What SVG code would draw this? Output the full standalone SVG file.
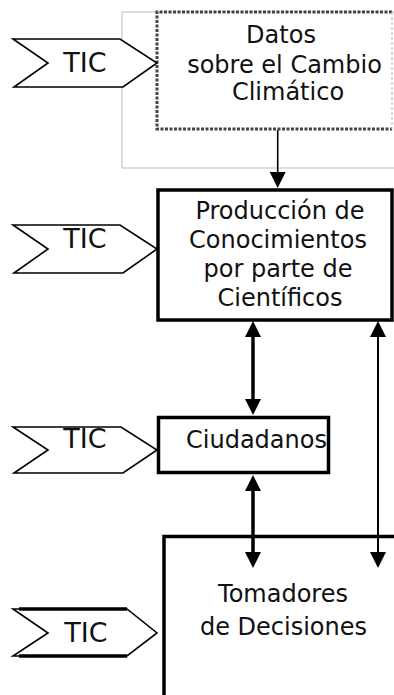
<svg xmlns="http://www.w3.org/2000/svg" width="394" height="695" viewBox="0 0 394 695">
<style>
text{font-family:"DejaVu Sans","Verdana",sans-serif;fill:#111;text-anchor:middle}
.t{font-size:24px}
.tic{font-size:27px}
.chev{fill:#fff;stroke:#000;stroke-width:1.6;stroke-linejoin:miter}
.box{fill:#fff;stroke:#000;stroke-width:3.5}
.ln{stroke:#000;fill:none}
</style>
<defs>
<marker id="ah" viewBox="0 0 16 16" refX="9" refY="8" markerWidth="16" markerHeight="16" markerUnits="userSpaceOnUse" orient="auto-start-reverse">
<path d="M0,0 L16,8 L0,16 z" fill="#000"/>
</marker>
</defs>
<rect x="122" y="12" width="300" height="156" fill="#fff" stroke="#bbb" stroke-width="1"/>
<g id="datos">
<rect x="157" y="12" width="235" height="117" fill="#fff" stroke="none"/>
<path d="M392,12 H157 V129 H392" fill="none" stroke="#444" stroke-width="3" stroke-dasharray="3 1.5"/>
<path d="M392,12 V129" fill="none" stroke="#ccc" stroke-width="1.5" stroke-dasharray="3 2"/>
<text class="t" x="281" y="43">Datos</text>
<text class="t" x="284.5" y="73">sobre el Cambio</text>
<text class="t" x="288" y="100">Climático</text>
</g>
<g id="produccion">
<rect class="box" x="158" y="190" width="234" height="130"/>
<text class="t" x="280" y="219">Producción de</text>
<text class="t" x="278" y="248">Conocimientos</text>
<text class="t" x="278" y="277">por parte de</text>
<text class="t" x="280" y="306">Científicos</text>
</g>
<g id="ciudadanos">
<rect class="box" x="158.5" y="417.5" width="170" height="55"/>
<text class="t" x="256.5" y="448">Ciudadanos</text>
</g>
<g id="tomadores">
<path d="M164,700 V536.5 H400" fill="#fff" stroke="#000" stroke-width="3.5"/>
<text class="t" x="283" y="602">Tomadores</text>
<text class="t" x="283.5" y="635">de Decisiones</text>
</g>
<g id="tic1">
<polygon class="chev" points="13,39 120,39 157,63 123,87 14,87 48,63"/>
<text class="tic" x="85" y="72">TIC</text>
</g>
<g id="tic2">
<polygon class="chev" points="13,225 120,225 157,249 123,273 14,273 48,249"/>
<text class="tic" x="85" y="248">TIC</text>
</g>
<g id="tic3">
<polygon class="chev" points="13,427 121,427 157,450 123,473 14,473 48,450"/>
<text class="tic" x="85" y="448">TIC</text>
</g>
<g id="tic4">
<polygon class="chev" points="13,609 127,609 157,633 127,656 13,656 48,633"/>
<path d="M19,609 H127 M19,656 H127" stroke="#000" stroke-width="3.5"/>
<text class="tic" x="86" y="642">TIC</text>
</g>
<g id="connectors">
<line class="ln" x1="277.7" y1="130" x2="277.7" y2="181" stroke-width="1.6" marker-end="url(#ah)"/>
<line class="ln" x1="253" y1="328" x2="253" y2="408" stroke-width="3.5" marker-start="url(#ah)" marker-end="url(#ah)"/>
<line class="ln" x1="378" y1="328" x2="378" y2="561" stroke-width="2" marker-start="url(#ah)" marker-end="url(#ah)"/>
<line class="ln" x1="253" y1="482" x2="253" y2="561" stroke-width="3.5" marker-start="url(#ah)" marker-end="url(#ah)"/>
</g>
</svg>
